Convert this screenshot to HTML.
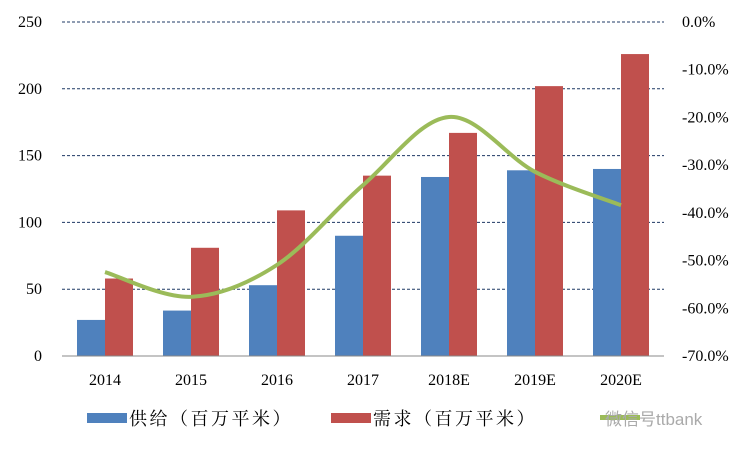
<!DOCTYPE html>
<html><head><meta charset="utf-8"><style>
body{margin:0;background:#fff}
svg{font-family:"Liberation Serif","Noto Serif CJK SC",serif}
</style></head><body>
<svg id="c" width="750" height="450"></svg>
<script>
const categories=["2014","2015","2016","2017","2018E","2019E","2020E"];
const supply=[27,34,53,90,134,139,140];
const demand=[58,81,109,135,167,202,226];
const gap=[-52.4,-57.6,-50.9,-34.2,-19.9,-31.4,-38.4];
const leftTicks=[0,50,100,150,200,250];
const rightTicks=[0,-10,-20,-30,-40,-50,-60,-70];
const NS="http://www.w3.org/2000/svg";
const svg=document.getElementById('c');
const X0=62,X1=664,Y0=356,Y1=22;
const band=(X1-X0)/categories.length;
const yL=v=>Y0-(v/250)*(Y0-Y1);
const yR=v=>Y1+(-v/70)*(Y0-Y1);
const xc=i=>X0+band*(i+0.5);
function mk(t,a,p){const e=document.createElementNS(NS,t);for(const k in a)e.setAttribute(k,a[k]);(p||svg).appendChild(e);return e;}
leftTicks.forEach(v=>{
 if(v>0){const g=mk('line',{x1:X0,x2:X1,y1:yL(v),y2:yL(v),stroke:'#1f3864','stroke-width':1,'stroke-dasharray':'3,2'});
 
 }
 const t=mk('text',{x:42,y:yL(v)+5,'text-anchor':'end','font-size':16});t.textContent=v;
 
 
});
rightTicks.forEach(v=>{
 const t=mk('text',{x:682,y:yR(v)+5,'font-size':16});t.textContent=v.toFixed(1)+'%';
 
 
});
categories.forEach((c,i)=>{
 const w=28;
 const b1=mk('rect',{x:xc(i)-w,y:yL(supply[i]),width:w,height:Y0-yL(supply[i]),fill:'#4f81bd'});
 
 
 const b2=mk('rect',{x:xc(i),y:yL(demand[i]),width:w,height:Y0-yL(demand[i]),fill:'#c0504d'});
 
 
 const t=mk('text',{x:xc(i),y:385,'text-anchor':'middle','font-size':16});t.textContent=c;
 
 
});
const ax=mk('line',{x1:X0,x2:X1,y1:Y0,y2:Y0,stroke:'#888','stroke-width':1});


const pts=gap.map((v,i)=>[xc(i),yR(v)]);
let d='M'+pts[0][0]+','+pts[0][1];
for(let i=0;i<pts.length-1;i++){
 const p0=pts[i-1]||pts[i],p1=pts[i],p2=pts[i+1],p3=pts[i+2]||p2,k=6;
 d+=' C'+(p1[0]+(p2[0]-p0[0])/k)+','+(p1[1]+(p2[1]-p0[1])/k)+' '+(p2[0]-(p3[0]-p1[0])/k)+','+(p2[1]-(p3[1]-p1[1])/k)+' '+p2[0]+','+p2[1];
}
const ln=mk('path',{d:d,fill:'none',stroke:'#9bbb59','stroke-width':4});


</script>
<svg style="position:absolute;left:0;top:0" width="750" height="450">
<g font-family='"Liberation Serif","Noto Serif CJK SC",serif' font-size="18" letter-spacing="2.5">
<rect x="87" y="413" width="40" height="10" fill="#4f81bd"/>
<text x="129" y="425">供给（百万平米）</text>
<rect x="331" y="413" width="40" height="10" fill="#c0504d"/>
<text x="373" y="425">需求（百万平米）</text>
<rect x="600" y="415" width="40" height="5" fill="#9bbb59"/>
<text x="605" y="425" fill="#aaa" letter-spacing="0" font-family="Liberation Sans,sans-serif" font-size="17">微信号ttbank</text>
</g></svg>
</body></html>
